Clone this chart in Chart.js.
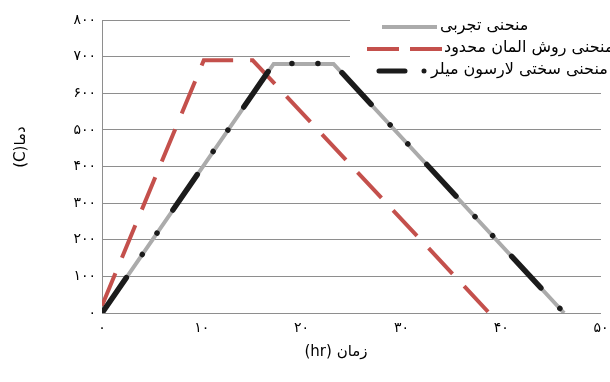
<!DOCTYPE html>
<html><head><meta charset="utf-8">
<script src="https://cdn.jsdelivr.net/npm/chart.js@4/dist/chart.umd.min.js"></script>
<style>html,body{margin:0;padding:0;background:#fff}#wrap{width:610px;height:382px;position:relative}</style>
</head><body><div id="wrap"><canvas id="c" width="610" height="382"></canvas></div>
<script>
// ---- data ----
const seriesNames = ['منحنی تجربی', 'منحنی روش المان محدود', 'منحنی سختی لارسون میلر'];
const expTime = [0, 17.2, 23.2, 46.3];
const expTemp = [0, 680, 680, 0];
const feTime = [0, 10.2, 15.1, 38.8];
const feTemp = [20, 690, 690, 0];
const lmTime = [0, 17.2, 23.2, 46.3];
const lmTemp = [0, 681, 681, 0];
const xTickValues = [0, 10, 20, 30, 40, 50];
const yTickValues = [0, 100, 200, 300, 400, 500, 600, 700, 800];
const xTitle = 'زمان (hr)';
const yTitle = 'دما(C)';

const FA = '۰۱۲۳۴۵۶۷۸۹';
const toFa = n => String(n).replace(/[0-9]/g, d => FA[+d]);
const pts = (xs, ys) => xs.map((x, i) => ({x: x, y: ys[i]}));

const colors = {exp: '#ababab', fe: '#c4504c', lm: '#1b1b1b', grid: '#8e8e8e'};
const FONT = '"DejaVu Sans", "Noto Sans", sans-serif';

const styles = [
  {color: colors.exp, width: 4, dash: [], cap: 'butt'},
  {color: colors.fe, width: 4, dash: [35, 17], cap: 'butt'},
  {color: colors.lm, width: 5.5, dash: [43, 28, 0.01, 26, 0.01, 28], cap: 'round'}
];

const legendPlugin = {
  id: 'legendBox',
  beforeDatasetsDraw(chart) {
    const ctx = chart.ctx;
    ctx.save();
    ctx.fillStyle = '#fff';
    ctx.fillRect(350, 0, 260, 84);
    ctx.restore();
  },
  afterDraw(chart) {
    const ctx = chart.ctx;
    ctx.save();
    const rows = [27, 49, 71];
    ctx.lineCap = 'butt';
    ctx.strokeStyle = styles[0].color; ctx.lineWidth = 4;
    ctx.beginPath(); ctx.moveTo(382, rows[0]); ctx.lineTo(437, rows[0]); ctx.stroke();
    ctx.strokeStyle = styles[1].color; ctx.lineWidth = 4;
    ctx.setLineDash([32, 11]);
    ctx.beginPath(); ctx.moveTo(367, rows[1]); ctx.lineTo(442, rows[1]); ctx.stroke();
    ctx.strokeStyle = styles[2].color; ctx.lineWidth = 5; ctx.lineCap = 'round';
    ctx.setLineDash([26, 19, 0.01, 40]);
    ctx.beginPath(); ctx.moveTo(379, rows[2]); ctx.lineTo(430, rows[2]); ctx.stroke();
    ctx.setLineDash([]);
    ctx.direction = 'rtl';
    ctx.fillStyle = '#000';
    ctx.font = '16px ' + FONT;
    ctx.textAlign = 'left';
    ctx.textBaseline = 'middle';
    ctx.fillText(seriesNames[0], 440, rows[0] - 1);
    ctx.fillText(seriesNames[1], 444, rows[1] - 1);
    ctx.fillText(seriesNames[2], 431, rows[2] - 1);
    ctx.font = '15px ' + FONT;
    ctx.textAlign = 'center';
    ctx.fillText(xTitle, 336, 352);
    ctx.translate(21, 147);
    ctx.rotate(-Math.PI / 2);
    ctx.fillText(yTitle, 0, 0);
    ctx.restore();
  }
};

const mk = (label, data, s, order) => ({
  label: label, data: data, showLine: true, pointRadius: 0, pointHoverRadius: 0,
  borderColor: s.color, backgroundColor: s.color, borderWidth: s.width,
  borderDash: s.dash, borderCapStyle: s.cap, borderJoinStyle: s.cap === 'round' ? 'round' : 'miter',
  tension: 0, fill: false, order: order
});

new Chart(document.getElementById('c'), {
  type: 'scatter',
  data: {
    datasets: [
      mk(seriesNames[0], pts(expTime, expTemp), styles[0], 3),
      mk(seriesNames[1], pts(feTime, feTemp), styles[1], 2),
      mk(seriesNames[2], pts(lmTime, lmTemp), styles[2], 1)
    ]
  },
  options: {
    responsive: false, animation: false, devicePixelRatio: 1,
    layout: {padding: {top: 20, right: 9, left: 0, bottom: 0}},
    plugins: {legend: {display: false}, tooltip: {enabled: false}},
    scales: {
      x: {
        type: 'linear', min: 0, max: 50,
        afterBuildTicks: s => { s.ticks = xTickValues.map(v => ({value: v})); },
        afterFit: s => { s.height = 69; s.paddingLeft = 0; s.paddingRight = 0; },
        grid: {display: false, drawTicks: false},
        border: {display: false},
        ticks: {callback: v => toFa(v), color: '#000', font: {family: FONT, size: 14}, padding: 7, maxRotation: 0}
      },
      y: {
        type: 'linear', min: 0, max: 800,
        afterBuildTicks: s => { s.ticks = yTickValues.map(v => ({value: v})); },
        afterFit: s => { s.width = 102; s.paddingTop = 0; s.paddingBottom = 0; },
        grid: {color: colors.grid, lineWidth: 1, drawTicks: false},
        border: {display: true, color: colors.grid, width: 1},
        ticks: {callback: v => toFa(v), color: '#000', font: {family: FONT, size: 14}, padding: 6}
      }
    }
  },
  plugins: [legendPlugin]
});
</script>
</body></html>
